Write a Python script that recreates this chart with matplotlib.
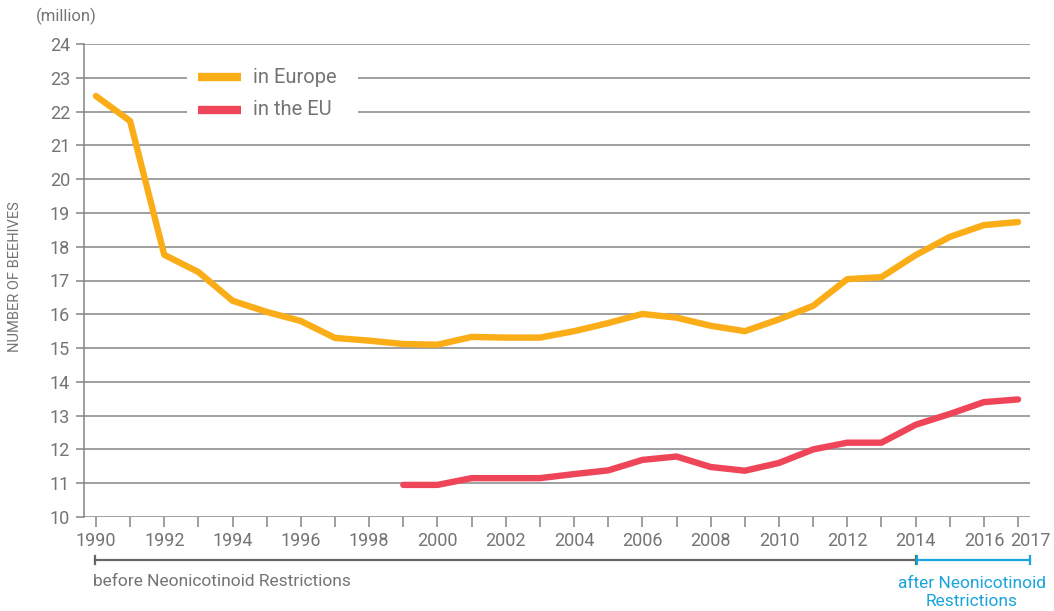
import matplotlib
matplotlib.use("Agg")
import matplotlib.pyplot as plt
import matplotlib.transforms as mtransforms
from matplotlib.lines import Line2D
from matplotlib.patches import Rectangle

# ---- data ----
years_europe = list(range(1990, 2018))
europe = [22.46, 21.72, 17.76, 17.25, 16.40, 16.07, 15.80, 15.30, 15.22, 15.12,
          15.10, 15.33, 15.31, 15.31, 15.50, 15.74, 16.01, 15.90, 15.66, 15.50,
          15.85, 16.25, 17.04, 17.10, 17.75, 18.29, 18.64, 18.73]
years_eu = list(range(1999, 2018))
eu = [10.95, 10.95, 11.15, 11.15, 11.15, 11.27, 11.38, 11.69, 11.79, 11.48,
      11.37, 11.60, 12.00, 12.20, 12.20, 12.73, 13.05, 13.40, 13.48]
series_labels = ["in Europe", "in the EU"]
y_ticks = list(range(10, 25))
x_ticks = list(range(1990, 2018))
x_tick_labels = [str(y) if (y % 2 == 0 or y == 2017) else "" for y in x_ticks]
restriction_year = 2014
before_label = "before Neonicotinoid Restrictions"
after_label = "after Neonicotinoid\nRestrictions"
y_label = "NUMBER OF BEEHIVES"
unit_label = "(million)"

# ---- style ----
plt.rcParams['font.family'] = ['Roboto', 'DejaVu Sans']
ORANGE = "#FBAD18"
RED = "#EE4658"
GRID = "#858585"
TEXT = "#747474"
BLUE = "#1aa3dc"
W = 'normal'

fig = plt.figure(figsize=(10.54, 6.11), dpi=100)
ax = fig.add_axes([84/1054, 1 - 517/611, 946/1054, 473/611])

ax.set_xlim(1989.65, 2017.35)
ax.set_ylim(10, 24)

for v in y_ticks:
    ax.axhline(v, color=GRID, lw=1.1, zorder=1)

ax.plot(years_europe, europe, color=ORANGE, lw=4.6, solid_capstyle='round',
        solid_joinstyle='round', zorder=3)
ax.plot(years_eu, eu, color=RED, lw=4.6, solid_capstyle='round',
        solid_joinstyle='round', zorder=3)

for s in ['top', 'right', 'bottom']:
    ax.spines[s].set_visible(False)
ax.spines['left'].set_color(GRID)
ax.spines['left'].set_linewidth(1.1)

ax.set_yticks(y_ticks)
ax.set_yticklabels([str(v) for v in y_ticks])
ax.set_xticks(x_ticks)
ax.set_xticklabels(x_tick_labels)
ax.tick_params(axis='y', length=6, width=1.1, color=GRID, pad=4,
               labelsize=13, labelcolor=TEXT)
ax.tick_params(axis='x', length=7, width=1.1, color=GRID, pad=4,
               labelsize=13, labelcolor=TEXT)
for lab in ax.get_xticklabels() + ax.get_yticklabels():
    lab.set_fontweight(W)
# last year label sits slightly to the right in the reference
last = ax.get_xticklabels()[-1]
last.set_transform(last.get_transform() + mtransforms.ScaledTranslation(12/100, 0, fig.dpi_scale_trans))

# legend (manual)
ax.add_patch(Rectangle((0.1089, 0.828), 0.1808, 0.14, transform=ax.transAxes,
                       facecolor='white', edgecolor='none', zorder=2))
for yy, col, lab in [(0.9302, ORANGE, series_labels[0]), (0.8605, RED, series_labels[1])]:
    ax.add_line(Line2D([0.1205, 0.166], [yy, yy], transform=ax.transAxes,
                       color=col, lw=6, solid_capstyle='butt', zorder=4))
    ax.text(0.1786, yy, lab, transform=ax.transAxes, va='center', ha='left',
            fontsize=14.5, color=TEXT, fontweight=W, zorder=4)

# labels
fig.text(36/1054, 1 - 16/611, unit_label, fontsize=12, color=TEXT,
         va='center', ha='left', fontweight=W)
fig.text(15/1054, 1 - 277/611, y_label, fontsize=10.5, color=TEXT, rotation=90,
         va='center', ha='center', fontweight=W)

# restriction brackets
trans = mtransforms.blended_transform_factory(ax.transData, ax.transAxes)
yb = (517 - 560) / 473
cap = 8 / 473
x0 = x_ticks[0] - 0.03
x_end = 2017.35
for xa, xb, col in [(x0, restriction_year, "#666666"), (restriction_year + 0.05, x_end, BLUE)]:
    ax.add_line(Line2D([xa, xb], [yb, yb], transform=trans, color=col, lw=1.6, clip_on=False))
    for xc in (xa, xb):
        ax.add_line(Line2D([xc, xc], [yb - cap / 2, yb + cap / 2], transform=trans,
                           color=col, lw=1.6, clip_on=False))

ax.text(x0 - 0.05, (517 - 581) / 473, before_label, transform=trans, fontsize=12.5,
        color=TEXT, va='center', ha='left', fontweight=W)
ax.text((restriction_year + x_end) / 2 - 0.03, (517 - 592) / 473, after_label, transform=trans,
        fontsize=12.5, color=BLUE, va='center', ha='center', fontweight=W,
        linespacing=1.25)

fig.savefig("out.png", dpi=100)
